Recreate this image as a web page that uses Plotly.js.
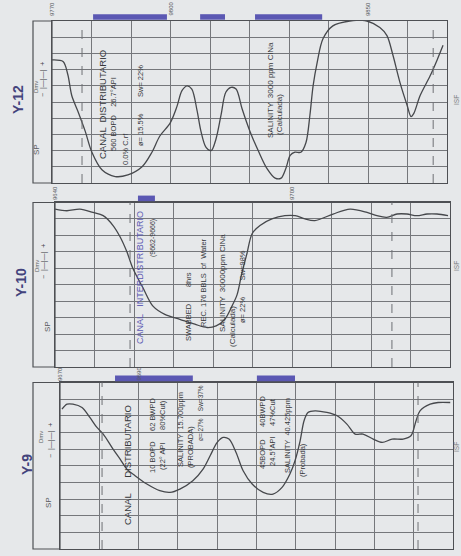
<!DOCTYPE html>
<html>
<head>
<meta charset="utf-8">
<script src="https://cdn.plot.ly/plotly-3.0.1.min.js"></script>
<style>
  html, body { margin: 0; padding: 0; background: #e6e8ea; }
  #chart { width: 461px; height: 556px; }
</style>
</head>
<body>
<div id="chart"></div>
<script>
// ---- SP log data (depth in ft, SP deflection in mV from shale line) ----
const wells = ['Y-12', 'Y-10', 'Y-9'];
const trackTop = [9770, 9640, 9670];          // first depth of each track
const trackSpan = 100;                         // ft shown per track

const depth12 = [9770, 9772.8, 9774, 9775, 9776.6, 9778.4, 9780.1, 9782.7, 9786, 9789.2,
  9792.8, 9795.3, 9797.3, 9799.9, 9801.6, 9802.9, 9804.2, 9805.4, 9806.7, 9807.7,
  9809, 9810.3, 9811.5, 9812.8, 9814, 9815.3, 9816.6, 9818.1, 9820.1, 9822.2,
  9824.4, 9826.5, 9828, 9829.2, 9830.3, 9831.5, 9833, 9834.3, 9835.3, 9836.1,
  9837.1, 9838.6, 9841.1, 9845.4, 9849.7, 9853, 9854.8, 9856.3, 9858.1, 9859.9,
  9860.9, 9861.6, 9863.2, 9865.7, 9867.5, 9869];
const sp12 = [-24, -25, -33, -46, -56, -68, -81, -92, -96, -95,
  -90, -81, -71, -63, -53, -43, -40, -42, -55, -68,
  -78, -80, -73, -58, -44, -41, -42, -54, -68, -80,
  -91, -97, -97, -91, -83, -81, -81, -75, -58, -40,
  -26, -11, -3, 0, 0, -4, -9, -21, -38, -52,
  -59, -57, -46, -34, -24, -15];

const depth10 = [9640, 9643, 9646.3, 9649.6, 9652.2, 9654.7, 9656.5, 9658.2, 9659.7, 9662.3,
  9664.8, 9667.8, 9671.6, 9675.4, 9678.5, 9680.8, 9683, 9684.8, 9686.1, 9687.3,
  9688.6, 9689.9, 9691.9, 9694.9, 9698.2, 9700.8, 9703.3, 9705.8, 9710.4, 9714.7,
  9719, 9721.5, 9724, 9726.6, 9729.1, 9731.6, 9734.2, 9736.7, 9739.5];
const sp10 = [-4, -5, -4, -6, -8, -14, -21, -30, -40, -52,
  -63, -68, -71, -74, -76, -75, -71, -63, -56, -43,
  -31, -19, -14, -10, -8, -8, -10, -11, -7, -4,
  -6, -8, -9, -7, -7, -8, -7, -7, -8];

const depth9 = [9670.5, 9671.8, 9673.3, 9675.6, 9677.6, 9679.4, 9681, 9683.5, 9685.3, 9687,
  9689.1, 9692.1, 9695.4, 9698, 9700.5, 9703.8, 9706.4, 9708.2, 9710, 9711.5,
  9713, 9714.8, 9716.6, 9718.9, 9721.7, 9724.2, 9726.5, 9728.5, 9729.8, 9731.1,
  9732.1, 9733.1, 9734.9, 9737.9, 9740.5, 9743, 9745.1, 9747.1, 9749.7, 9752,
  9754.5, 9757.3, 9759.3, 9760.6, 9761.6, 9764.2, 9766.2, 9769.3];
const sp9 = [-16, -13, -13, -15, -21, -27, -31, -40, -46, -52,
  -56, -61, -65, -66, -64, -59, -52, -44, -36, -33,
  -34, -42, -53, -61, -66, -67, -63, -55, -47, -35,
  -23, -18, -17, -18, -20, -25, -31, -31, -34, -36,
  -34, -34, -32, -23, -17, -13, -12, -12];

// perforated / tested intervals (top, base)
const perfTop12 = [9780.4, 9807.5, 9821.4];
const perfBase12 = [9799.1, 9813.8, 9838.4];
const perfTop10 = [9661];
const perfBase10 = [9665.3];
const perfTop9 = [9684, 9720.1];
const perfBase9 = [9703.8, 9729.8];

// dashed reference depths on each track
const dashed12 = [9777.6, 9866.5];
const dashed10 = [9659, 9725.3];
const dashed9 = [9680.7, 9761.1];

// depth marks written along the tracks
const depthMarks12 = ['9770', '9800', '9850'];
const depthMarks10 = ['9640', '9700'];
const depthMarks9 = ['9670', '9690'];

// ---- page geometry ----
const W = 461, H = 556;
const frames = [
  { left: 33, x0: 52, x1: 447, top: 21, bottom: 183 },
  { left: 33, x0: 55, x1: 450, top: 202.5, bottom: 367 },
  { left: 33, x0: 60, x1: 453, top: 382.5, bottom: 549 }
];
const px = v => v / W;
const py = v => 1 - v / H;

const GRID = '#75777b', FRAME = '#4e5054', INK = '#36383c', BLUE = '#5b58b3', TITLE = '#43437c';
const FONT = 'Liberation Sans, Arial, sans-serif';

const depths = [depth12, depth10, depth9];
const sps = [sp12, sp10, sp9];
const perfTops = [perfTop12, perfTop10, perfTop9];
const perfBases = [perfBase12, perfBase10, perfBase9];
const dashedSets = [dashed12, dashed10, dashed9];

const traces = [];
const layout = {
  width: W, height: H,
  margin: { l: 0, r: 0, t: 0, b: 0 },
  paper_bgcolor: '#e6e8ea',
  plot_bgcolor: 'rgba(0,0,0,0)',
  showlegend: false,
  shapes: [],
  annotations: []
};

wells.forEach((w, i) => {
  const f = frames[i];
  const xs = i === 0 ? '' : String(i + 1);
  const xa = 'xaxis' + xs, ya = 'yaxis' + xs;
  const xr = 'x' + xs, yr = 'y' + xs;

  layout[xa] = {
    domain: [px(f.x0), px(f.x1)],
    range: [trackTop[i], trackTop[i] + trackSpan],
    anchor: yr, tick0: trackTop[i], dtick: 10,
    showgrid: true, gridcolor: GRID, gridwidth: 1,
    showticklabels: false, ticks: '', zeroline: false,
    showline: true, mirror: true, linecolor: FRAME, linewidth: 1.2,
    fixedrange: true
  };
  layout[ya] = {
    domain: [py(f.bottom), py(f.top)],
    range: [-100, 0],
    anchor: xr, tick0: 0, dtick: 10,
    showgrid: true, gridcolor: GRID, gridwidth: 1,
    showticklabels: false, ticks: '', zeroline: false,
    showline: true, mirror: true, linecolor: FRAME, linewidth: 1.2,
    fixedrange: true
  };

  traces.push({
    type: 'scatter', mode: 'lines',
    x: depths[i], y: sps[i], xaxis: xr, yaxis: yr,
    line: { color: '#46484c', width: 1.3, shape: 'spline', smoothing: 0.9 },
    hoverinfo: 'skip'
  });

  // header box (SP scale column)
  layout.shapes.push({
    type: 'rect', xref: 'paper', yref: 'paper',
    x0: px(f.left), x1: px(f.x0), y0: py(f.bottom), y1: py(f.top),
    line: { color: FRAME, width: 1.2 }, fillcolor: 'rgba(0,0,0,0)'
  });

  // dashed reference lines
  dashedSets[i].forEach(d => layout.shapes.push({
    type: 'line', xref: xr, yref: yr + ' domain',
    x0: d, x1: d, y0: 0, y1: 1,
    line: { color: '#6e7074', width: 1, dash: 'dash' }
  }));

  // tested intervals
  perfTops[i].forEach((t, k) => layout.shapes.push({
    type: 'rect', xref: xr, yref: yr + ' domain',
    x0: t, x1: perfBases[i][k], y0: 1.008, y1: 1.042,
    line: { width: 0 }, fillcolor: BLUE
  }));

  // well name
  layout.annotations.push({
    text: '<b>' + w + '</b>', xref: 'paper', yref: 'paper',
    x: px([18, 21, 27][i]), y: py([100, 283, 465][i]),
    xanchor: 'center', yanchor: 'middle', textangle: -90, showarrow: false,
    font: { family: FONT, size: 14, color: TITLE }
  });
});

// ---- texts written on the logs ----
function note(x, y, text, size, color, extra) {
  return Object.assign({
    text, xref: 'paper', yref: 'paper', x: px(x), y: py(y),
    xanchor: 'center', yanchor: 'middle', textangle: -90, showarrow: false,
    font: { family: FONT, size: size, color: color || INK }
  }, extra || {});
}

const notes = [
  // header scales
  note(36, 150, 'SP', 8, '#5a5c60'),
  note(36, 87, 'Dmv', 6, '#5a5c60'),
  note(43, 80, '−  |—|—|  +', 7, '#4a4c50'),
  note(47, 327, 'SP', 8, '#5a5c60'),
  note(37, 266, 'Dmv', 6, '#5a5c60'),
  note(44, 262, '−  |—|—|  +', 7, '#4a4c50'),
  note(48, 503, 'SP', 8, '#5a5c60'),
  note(41, 437, 'Dmv', 6, '#5a5c60'),
  note(51, 441, '−  |—|—|  +', 7, '#4a4c50'),

  // Y-12
  note(103, 105, 'CANAL  DISTRIBUTARIO', 9.5, INK),
  note(113, 114, '560 BOPD    26.7°API', 7.5, INK),
  note(125, 149, '0.0% C.rf', 7.5, INK),
  note(140, 106, 'ø= 15.5%        Sw= 22%', 7.5, INK),
  note(270, 90, 'SALINITY  3000 ppm ClNa', 8, INK),
  note(279, 115, '(Calculada)', 8, INK),

  // Y-10
  note(140, 278, 'CANAL   INTERDISTRIBUTARIO', 9, BLUE),
  note(153, 238, '(9662-9666)', 7, INK),
  note(188, 307, 'SWABBED        8hrs', 7.5, INK),
  note(203, 283, 'REC. 176 BBLS  of  Water', 7.5, INK),
  note(222, 283, 'SALINITY  30000ppm ClNa', 8, INK),
  note(232, 327, '(Calculada)', 8, INK),
  note(242, 287, 'ø= 22%        Sw=98%', 7.5, INK),

  // Y-9
  note(127, 465, 'CANAL      DISTRIBUTARIO', 9.5, INK),
  note(152, 435, '10 BOPD     62 BWPD', 7.5, INK),
  note(162, 435, '(22° API      80%Cut)', 7.5, INK),
  note(180, 430, 'SALINITY  15.700ppm', 7.5, INK),
  note(190, 447, '(PROBADA)', 7.5, INK),
  note(200, 413, 'ø= 27%    Sw=37%', 6.5, INK),
  note(262, 432, '45BOPD      40BWPD', 7.5, INK),
  note(272, 432, '24.5°API     47%Cut', 7.5, INK),
  note(287, 436, 'SALINITY  40.425ppm', 7.5, INK),
  note(302, 460, '(Probada)', 7.5, INK),

  // induction log references
  note(456, 100, 'ISF', 6.5, '#7a7c80'),
  note(456, 266, 'ISF', 6.5, '#7a7c80'),
  note(456, 447, 'ISF', 6.5, '#7a7c80')
];
layout.annotations.push(...notes);

// depth marks along the top of each track
const markSets = [depthMarks12, depthMarks10, depthMarks9];
const markRows = [9, 193, 374];
markSets.forEach((set, i) => {
  const xs = i === 0 ? '' : String(i + 1);
  set.forEach(m => layout.annotations.push({
    text: m, xref: 'x' + xs, yref: 'paper',
    x: Number(m), y: py(markRows[i]),
    xanchor: 'center', yanchor: 'middle', textangle: -90, showarrow: false,
    font: { family: FONT, size: 6, color: '#55575b' }
  }));
});

Plotly.newPlot('chart', traces, layout, { staticPlot: true, displayModeBar: false });
</script>
</body>
</html>
